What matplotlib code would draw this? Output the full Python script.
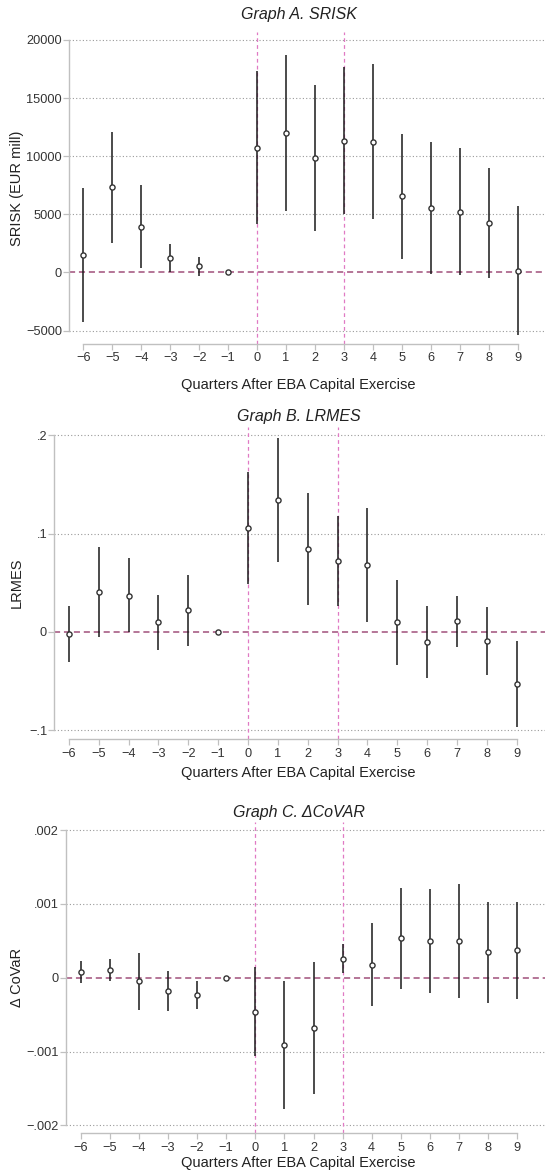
import numpy as np
import matplotlib.pyplot as plt

plt.rcParams['font.family'] = ['Liberation Sans', 'DejaVu Sans']

quarters = [-6, -5, -4, -3, -2, -1, 0, 1, 2, 3, 4, 5, 6, 7, 8, 9]

# Graph A: SRISK
srisk = [1490, 7315, 3925, 1230, 516, 0, 10720, 12010, 9835, 11300, 11210, 6566, 5560, 5215, 4215, 140]
srisk_hi = [7230, 12100, 7490, 2435, 1317, 0, 17320, 18700, 16145, 17690, 17900, 11900, 11210, 10670, 8950, 5700]
srisk_lo = [-4250, 2500, 400, 0, -290, 0, 4180, 5275, 3530, 4990, 4560, 1200, -90, -230, -515, -5400]

# Graph B: LRMES
lrmes = [-0.002, 0.041, 0.037, 0.0099, 0.022, 0, 0.1056, 0.1344, 0.0842, 0.0723, 0.068, 0.0099, -0.0102, 0.0109, -0.0088, -0.053]
lrmes_hi = [0.0268, 0.0869, 0.075, 0.0377, 0.058, 0, 0.163, 0.1978, 0.141, 0.118, 0.126, 0.053, 0.0265, 0.0367, 0.0258, -0.0092]
lrmes_lo = [-0.031, -0.005, 0.0, -0.018, -0.014, 0, 0.0486, 0.071, 0.0275, 0.0265, 0.0105, -0.034, -0.047, -0.015, -0.0434, -0.0964]

# Graph C: Delta CoVaR
covar = [0.000077, 0.000108, -0.000049, -0.00018, -0.000239, 0, -0.00046, -0.000916, -0.000682, 0.000257, 0.000172, 0.000534, 0.000497, 0.000497, 0.000344, 0.000375]
covar_hi = [0.000226, 0.000253, 0.000339, 0.00009, -0.000049, 0, 0.00014, -0.000045, 0.000208, 0.000452, 0.000737, 0.00122, 0.0012, 0.00127, 0.00103, 0.00103]
covar_lo = [-0.000076, -0.000045, -0.000438, -0.000455, -0.000429, 0, -0.00106, -0.00178, -0.00157, 0.00006, -0.000383, -0.000157, -0.000203, -0.000275, -0.000339, -0.000289]

panels = [
    dict(title='Graph A. SRISK', ylabel='SRISK (EUR mill)', y=srisk, hi=srisk_hi, lo=srisk_lo,
         yticks=[-5000, 0, 5000, 10000, 15000, 20000],
         ylabels=['\u22125000', '0', '5000', '10000', '15000', '20000'],
         ylim=(-6150, 20680), rect=[0.1266, 0.7065, 0.8734, 0.2662], title_y=15, xlab_y=385),
    dict(title='Graph B. LRMES', ylabel='LRMES', y=lrmes, hi=lrmes_hi, lo=lrmes_lo,
         yticks=[-0.1, 0, 0.1, 0.2], ylabels=['\u2212.1', '0', '.1', '.2'],
         ylim=(-0.1093, 0.209), rect=[0.0991, 0.3692, 0.9009, 0.2668], title_y=416, xlab_y=773),
    dict(title='Graph C. \u0394CoVAR', ylabel='\u0394 CoVaR', y=covar, hi=covar_hi, lo=covar_lo,
         yticks=[-0.002, -0.001, 0, 0.001, 0.002], ylabels=['\u2212.002', '\u2212.001', '0', '.001', '.002'],
         ylim=(-0.002108, 0.002114), rect=[0.1211, 0.033, 0.8789, 0.2659], title_y=812, xlab_y=1163),
]

H = 1172
fig = plt.figure(figsize=(5.45, 11.72), dpi=100)
axis_gray = '#c0c0c0'

for p in panels:
    ax = fig.add_axes(p['rect'])
    for yt in p['yticks']:
        if yt != 0:
            ax.axhline(yt, color='#9a9a9a', lw=0.8, ls=(0, (1, 2)), zorder=1)
    ax.axhline(0, color='#a0507a', lw=1.1, ls=(0, (4, 2.5)), zorder=2)
    for xv in [0, 3]:
        ax.axvline(xv, color='#e07ac4', lw=0.9, ls=(0, (3, 2.5)), zorder=2)
    ax.vlines(quarters, p['lo'], p['hi'], color='#1a1a1a', lw=1.1, zorder=3)
    ax.plot(quarters, p['y'], 'o', ms=3.7, mfc='white', mec='#333333', mew=1.0, zorder=4)

    ax.set_xlim(-6.5, 9.95)
    ax.set_ylim(*p['ylim'])
    ax.set_xticks(quarters)
    ax.set_xticklabels([str(q).replace('-', '\u2212') for q in quarters])
    ax.set_yticks(p['yticks'])
    ax.set_yticklabels(p['ylabels'])
    ax.tick_params(axis='both', colors=axis_gray, labelcolor='#333333', labelsize=9.2, length=4, width=0.9)
    ax.tick_params(axis='x', pad=2)
    ax.tick_params(axis='y', pad=1)

    for s in ['top', 'right']:
        ax.spines[s].set_visible(False)
    ax.spines['left'].set_color(axis_gray)
    ax.spines['left'].set_linewidth(1.0)
    ax.spines['left'].set_bounds(p['yticks'][0], p['yticks'][-1])
    ax.spines['bottom'].set_color(axis_gray)
    ax.spines['bottom'].set_linewidth(1.0)
    ax.spines['bottom'].set_bounds(-6, 9)

    r = p['rect']
    fig.text(17 / 545, r[1] + r[3] / 2, p['ylabel'], rotation=90, ha='center', va='center',
             fontsize=10.5, color='#222222')
    fig.text(0.548, 1 - p['title_y'] / H, p['title'], ha='center', va='center',
             fontsize=11.5, style='italic', color='#222222')
    fig.text(0.548, 1 - p['xlab_y'] / H, 'Quarters After EBA Capital Exercise', ha='center', va='center',
             fontsize=10.5, color='#222222')

fig.savefig('out.png', dpi=100)
